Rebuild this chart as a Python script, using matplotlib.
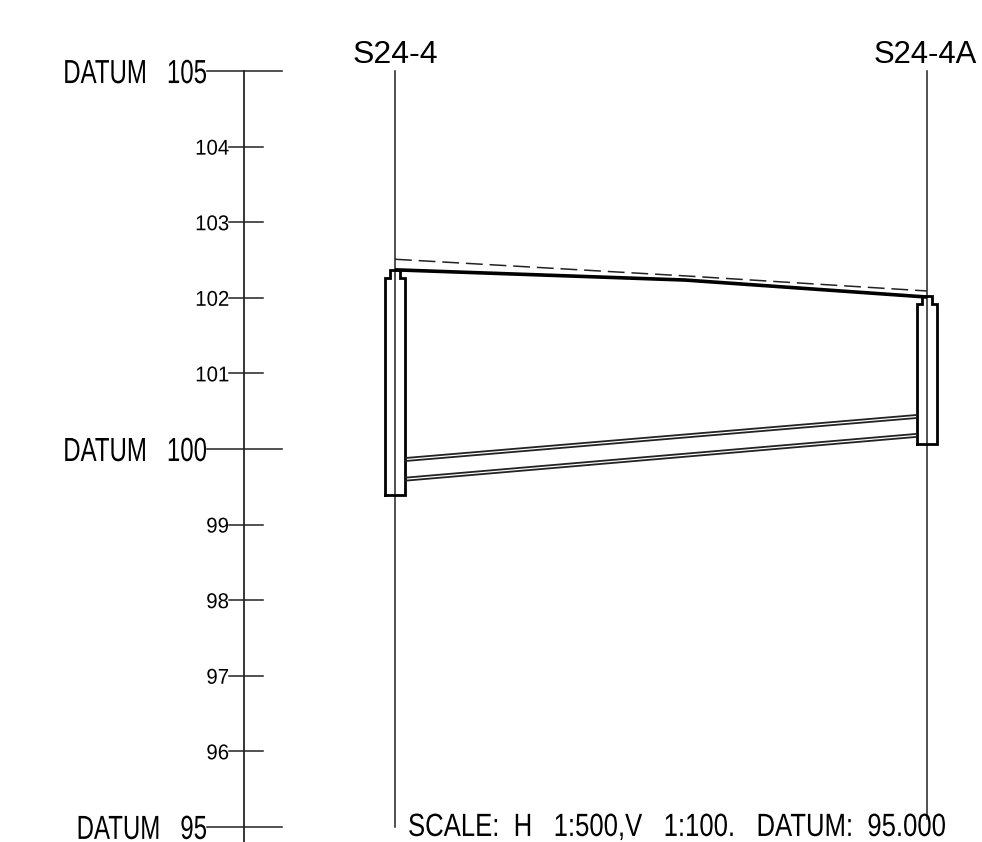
import matplotlib.pyplot as plt
from matplotlib.patheffects import AbstractPathEffect
from matplotlib.transforms import Affine2D

# Long section S24-4 to S24-4A, levels in metres
levels = [95, 96, 97, 98, 99, 100, 101, 102, 103, 104, 105]
datum_levels = [95, 100, 105]
section_names = ['S24-4', 'S24-4A']
section_ch = [0.0, 26.6]
section_bottom = [95.0, 95.1]

road_ch = [0.0, 14.5, 26.6]
road_proposed = [102.37, 102.235, 102.01]
road_existing = [102.51, 102.29, 102.09]

# pipe walls between chambers (start, end)
pipe_ch = [0.5, 26.1]
pipe_walls = [[99.88, 100.45], [99.84, 100.41], [99.62, 100.20], [99.58, 100.16]]

chamber_top = [102.26, 101.92]
chamber_neck = [102.37, 102.02]
chamber_bottom = [99.39, 100.07]

scale_note = 'SCALE:  H   1:500,V   1:100.   DATUM:  95.000'


# CAD lettering is tall and narrow, no such font here so stretch the glyphs
class Tall(AbstractPathEffect):
    def __init__(self, k):
        super().__init__()
        self.k = k

    def draw_path(self, renderer, gc, tpath, affine, rgbFace=None):
        renderer.draw_path(gc, tpath, Affine2D().scale(1, self.k) + affine, rgbFace)


plt.rcParams['font.family'] = ['Liberation Sans', 'DejaVu Sans']

fig = plt.figure(figsize=(9.82, 8.42), dpi=100)
ax = fig.add_axes([0, 0, 1, 1])
ax.set_xlim(-19.75, 29.35)
ax.set_ylim(94.80, 105.94)
ax.axis('off')

# level staff
axis_ch = -7.55
ax.plot([axis_ch, axis_ch], [94.80, 105], color='black', lw=1.1)
for lev in levels:
    if lev in datum_levels:
        ax.plot([-9.4, -5.65], [lev, lev], color='#222222', lw=1.1)
        ax.text(-9.4, lev - 0.159, f'DATUM   {lev}', ha='right', va='baseline', fontsize=17.3,
                path_effects=[Tall(1.39)])
    else:
        ax.plot([-8.3, -6.6], [lev, lev], color='#222222', lw=1.1)
        ax.text(-8.3, lev - 0.106, str(lev), ha='right', va='baseline', fontsize=14.7,
                path_effects=[Tall(1.05)])

# section verticals and names
for ch, low in zip(section_ch, section_bottom):
    ax.plot([ch, ch], [low, 105], color='#222222', lw=1.1)
ax.text(0, 105.105, section_names[0], ha='center', va='baseline', fontsize=23)
ax.text(29.1, 105.105, section_names[1], ha='right', va='baseline', fontsize=22.3)

# chambers
for ch, top, neck, bottom in zip(section_ch, chamber_top, chamber_neck, chamber_bottom):
    xs = [ch - 0.5, ch - 0.5, ch - 0.25, ch - 0.25, ch + 0.25, ch + 0.25, ch + 0.5, ch + 0.5, ch - 0.5]
    ys = [bottom, top, top, neck, neck, top, top, bottom, bottom]
    ax.plot(xs, ys, color='black', lw=2.0, solid_joinstyle='miter')

# road lines
ax.plot(road_ch, road_proposed, color='black', lw=2.6, solid_capstyle='butt')
ax.plot(road_ch, road_existing, color='#222222', lw=1.1, dashes=(11, 4.5))

# pipe
for wall in pipe_walls:
    ax.plot(pipe_ch, wall, color='#222222', lw=1.3, solid_capstyle='butt')

ax.text(0.65, 94.88, scale_note, ha='left', va='baseline', fontsize=18.5,
        path_effects=[Tall(1.25)])

fig.savefig('out.png', dpi=100)
